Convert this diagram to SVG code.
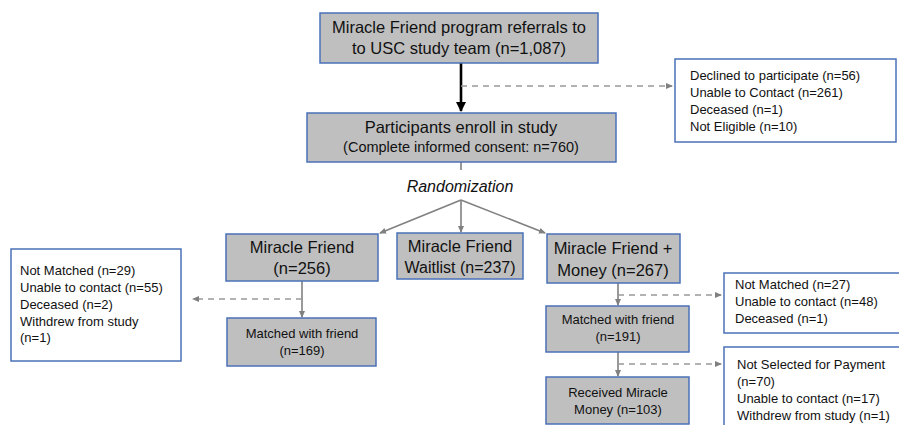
<svg xmlns="http://www.w3.org/2000/svg" width="899" height="425" viewBox="0 0 899 425">
<defs>
<style>
.box{fill:#bfbfbf;stroke:#4a72b8;stroke-width:1.5}
.wbox{fill:#ffffff;stroke:#4a72b8;stroke-width:1.5}
text{font-family:"Liberation Sans",Arial,sans-serif;fill:#111}
.big{font-size:16.5px;text-anchor:middle}
.mid{font-size:14.5px;text-anchor:middle}
.sm{font-size:13px;text-anchor:middle}
.lst{font-size:13px}
.con{stroke:#808080;stroke-width:1.6;fill:none}
.dash{stroke:#999999;stroke-width:1.6;fill:none;stroke-dasharray:6 5}
</style>
<marker id="ag" markerWidth="8" markerHeight="8" refX="6" refY="4" orient="auto" markerUnits="userSpaceOnUse">
<path d="M0,1 L7,4 L0,7 Z" fill="#808080"/>
</marker>
<marker id="ab" markerWidth="12" markerHeight="12" refX="9" refY="6" orient="auto" markerUnits="userSpaceOnUse">
<path d="M0,1 L10,6 L0,11 Z" fill="#000000"/>
</marker>
</defs>
<rect width="899" height="425" fill="#ffffff"/>

<g id="connectors">
<line x1="461" y1="63" x2="461" y2="111" stroke="#000" stroke-width="2.6" marker-end="url(#ab)"/>
<line class="dash" x1="461" y1="86" x2="672" y2="86" marker-end="url(#ag)"/>
<line class="con" x1="461" y1="162" x2="461" y2="170"/>
<line class="con" x1="461" y1="200" x2="380" y2="233" marker-end="url(#ag)"/>
<line class="con" x1="461" y1="200" x2="461" y2="232" marker-end="url(#ag)"/>
<line class="con" x1="461" y1="200" x2="545" y2="233" marker-end="url(#ag)"/>
<line class="con" x1="302" y1="281" x2="302" y2="317" marker-end="url(#ag)"/>
<line class="dash" x1="302" y1="299" x2="193" y2="299" marker-end="url(#ag)"/>
<line class="con" x1="618" y1="283" x2="618" y2="305" marker-end="url(#ag)"/>
<line class="dash" x1="618" y1="295" x2="721" y2="295" marker-end="url(#ag)"/>
<line class="con" x1="618" y1="352" x2="618" y2="376" marker-end="url(#ag)"/>
<line class="dash" x1="618" y1="364" x2="721" y2="364" marker-end="url(#ag)"/>
</g>

<g id="referrals">
<rect class="box" x="320" y="13" width="278" height="50"/>
<text class="big" x="459" y="33">Miracle Friend program referrals to</text>
<text class="big" x="459" y="54">to USC study team (n=1,087)</text>
</g>

<g id="excluded1">
<rect class="wbox" x="675" y="59" width="221" height="83"/>
<text class="lst" x="690" y="80">Declined to participate (n=56)</text>
<text class="lst" x="690" y="97">Unable to Contact (n=261)</text>
<text class="lst" x="690" y="114">Deceased (n=1)</text>
<text class="lst" x="690" y="131">Not Eligible (n=10)</text>
</g>

<g id="enroll">
<rect class="box" x="307" y="113" width="309" height="49"/>
<text class="big" x="461" y="133">Participants enroll in study</text>
<text class="mid" x="461" y="152">(Complete informed consent: n=760)</text>
</g>

<g id="randomization">
<text x="460" y="192" font-size="16px" font-style="italic" text-anchor="middle">Randomization</text>
</g>

<g id="mf">
<rect class="box" x="226" y="234" width="152" height="47"/>
<text class="big" x="302" y="253">Miracle Friend</text>
<text class="big" x="302" y="274">(n=256)</text>
</g>

<g id="waitlist">
<rect class="box" x="397" y="233" width="126" height="46"/>
<text class="big" x="460" y="252">Miracle Friend</text>
<text class="mid" x="460" y="273" style="font-size:16px">Waitlist (n=237)</text>
</g>

<g id="mfmoney">
<rect class="box" x="547" y="234" width="133" height="49"/>
<text class="big" x="613" y="254">Miracle Friend +</text>
<text class="big" x="613" y="276">Money (n=267)</text>
</g>

<g id="excluded2">
<rect class="wbox" x="11" y="249" width="170" height="112"/>
<text class="lst" x="20" y="275">Not Matched (n=29)</text>
<text class="lst" x="20" y="292">Unable to contact (n=55)</text>
<text class="lst" x="20" y="309">Deceased (n=2)</text>
<text class="lst" x="20" y="326">Withdrew from study</text>
<text class="lst" x="20" y="342">(n=1)</text>
</g>

<g id="matched1">
<rect class="box" x="227" y="318" width="149" height="48"/>
<text class="sm" x="302" y="338">Matched with friend</text>
<text class="sm" x="302" y="355">(n=169)</text>
</g>

<g id="matched2">
<rect class="box" x="546" y="306" width="143" height="46"/>
<text class="sm" x="618" y="324">Matched with friend</text>
<text class="sm" x="618" y="341">(n=191)</text>
</g>

<g id="excluded3">
<rect class="wbox" x="724" y="273" width="190" height="60"/>
<text class="lst" x="735" y="289">Not Matched (n=27)</text>
<text class="lst" x="735" y="306">Unable to contact (n=48)</text>
<text class="lst" x="735" y="323">Deceased (n=1)</text>
</g>

<g id="received">
<rect class="box" x="546" y="377" width="143" height="47"/>
<text class="sm" x="618" y="397">Received Miracle</text>
<text class="sm" x="618" y="414">Money (n=103)</text>
</g>

<g id="excluded4">
<rect class="wbox" x="724" y="347" width="190" height="90"/>
<text class="lst" x="737" y="369">Not Selected for Payment</text>
<text class="lst" x="737" y="386">(n=70)</text>
<text class="lst" x="737" y="403">Unable to contact (n=17)</text>
<text class="lst" x="737" y="420">Withdrew from study (n=1)</text>
</g>
</svg>
